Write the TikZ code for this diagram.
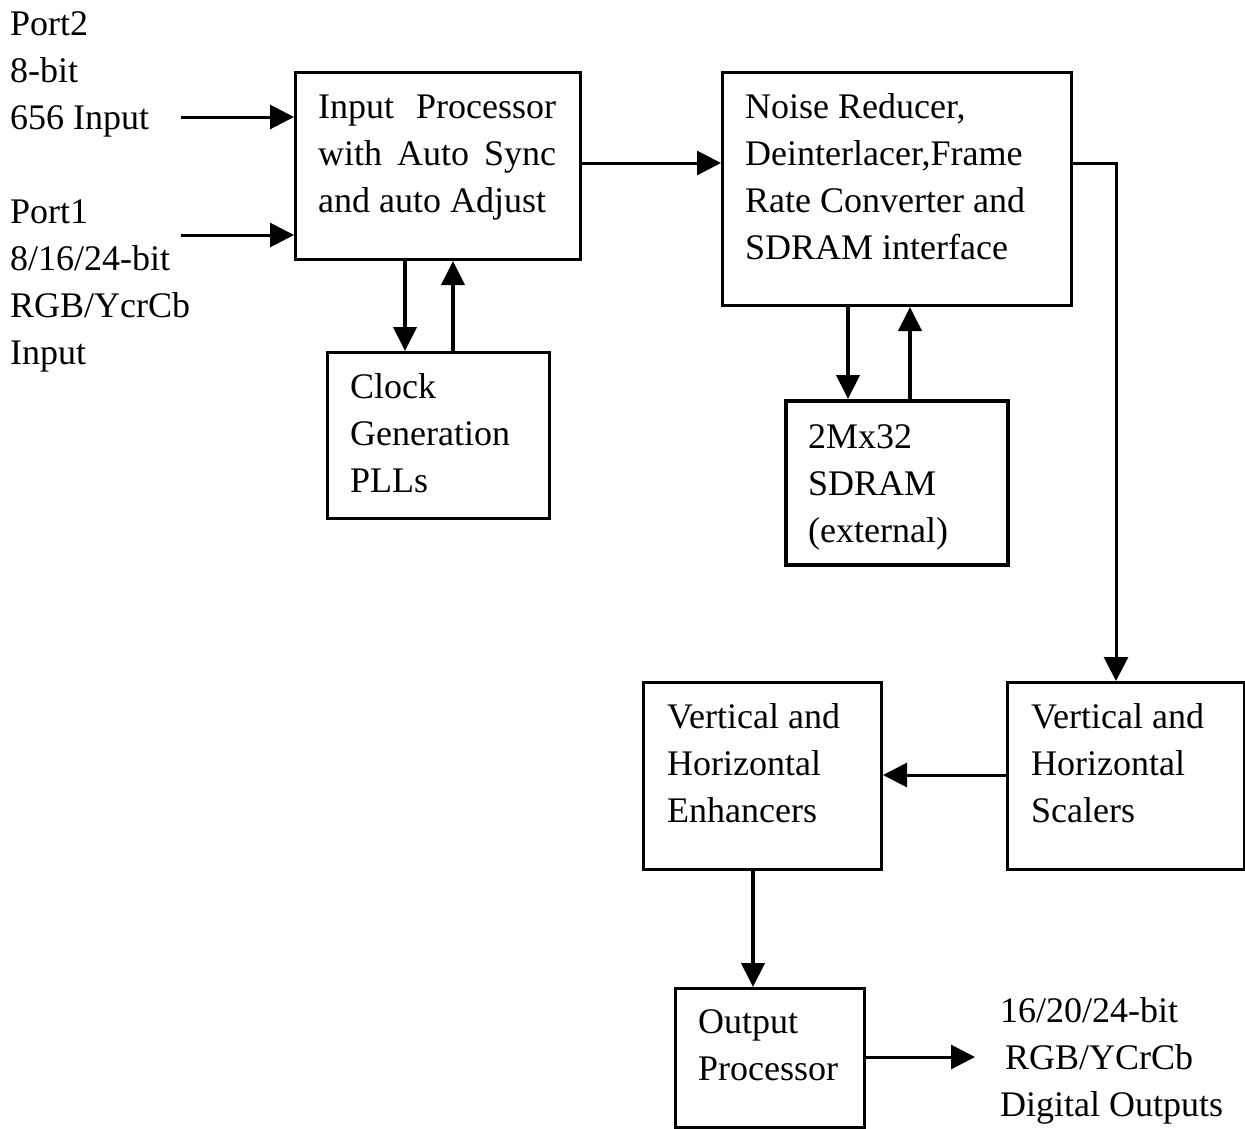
\documentclass[tikz,border=0pt]{standalone}
\usepackage{fontspec}
\setmainfont{Liberation Serif}
\usetikzlibrary{arrows.meta}
\begin{document}
\begin{tikzpicture}[x=1pt,y=-1pt,
  box/.style={draw, line width=3pt, inner sep=0pt, anchor=north west},
  lbl/.style={anchor=north west, inner sep=0pt, align=left, font=\fontsize{36}{47}\selectfont},
  harr/.style={line width=3pt, -{Triangle[length=24pt,width=24pt]}},
  varr/.style={line width=4pt, -{Triangle[length=24pt,width=23pt]}}]
\useasboundingbox (0,0) rectangle (1245,1128);
% boxes
\node[box, minimum width=285pt, minimum height=187pt] (ip) at (294,71) {};
\node[box, minimum width=349pt, minimum height=233pt] (nr) at (721,71) {};
\node[box, minimum width=222pt, minimum height=166pt] (ck) at (326,351) {};
\node[box, line width=4pt, minimum width=222pt, minimum height=164pt] (sd) at (784,399) {};
\node[box, minimum width=237pt, minimum height=187pt] (sc) at (1006,681) {};
\node[box, minimum width=238pt, minimum height=187pt] (en) at (642,681) {};
\node[box, minimum width=189pt, minimum height=139pt] (op) at (674,987) {};
% texts
\node[lbl] (tin) at (10,2) {\strut Port2\\8-bit\\656 Input\\[47pt]Port1\\8/16/24-bit\\RGB/YcrCb\\Input};
\node[lbl] (tip) at (318,85) {\strut\makebox[238pt][s]{Input Processor}\\\makebox[238pt][s]{with Auto Sync}\\and auto Adjust};
\node[lbl] (tnr) at (745,85) {\strut Noise Reducer,\\Deinterlacer,Frame\\Rate Converter and\\SDRAM interface};
\node[lbl] (tck) at (350,365) {\strut Clock\\Generation\\PLLs};
\node[lbl] (tsd) at (808,415) {\strut 2Mx32\\SDRAM\\(external)};
\node[lbl] (ten) at (667,695) {\strut Vertical and\\Horizontal\\Enhancers};
\node[lbl] (tsc) at (1031,695) {\strut Vertical and\\Horizontal\\Scalers};
\node[lbl] (top) at (698,1000) {\strut Output\\Processor};
\node[lbl] (tout) at (1000,989) {\strut 16/20/24-bit\\\hspace*{5pt}RGB/YCrCb\\Digital Outputs};
% connectors
\coordinate (p2) at (181,117);
\coordinate (p1) at (181,235);
\draw[harr] (p2) -- (p2 -| ip.west);
\draw[harr] (p1) -- (p1 -| ip.west);
\coordinate (m1) at (0,163);
\draw[harr] (ip.east |- m1) -- (nr.west |- m1);
\coordinate (a1) at (405,0);
\coordinate (a2) at (453,0);
\draw[varr] (ip.south -| a1) -- (ck.north -| a1);
\draw[varr] (ck.north -| a2) -- (ip.south -| a2);
\coordinate (b1) at (848,0);
\coordinate (b2) at (910,0);
\draw[varr] (nr.south -| b1) -- (sd.north -| b1);
\draw[varr] (sd.north -| b2) -- (nr.south -| b2);
\coordinate (c1) at (1116,0);
\draw[harr] (nr.east |- m1) -| (sc.north -| c1);
\coordinate (m2) at (0,775);
\draw[harr] (sc.west |- m2) -- (en.east |- m2);
\coordinate (d1) at (753,0);
\draw[varr] (en.south -| d1) -- (op.north -| d1);
\coordinate (m3) at (975,1057);
\draw[harr] (op.east |- m3) -- (m3);
\end{tikzpicture}
\end{document}
